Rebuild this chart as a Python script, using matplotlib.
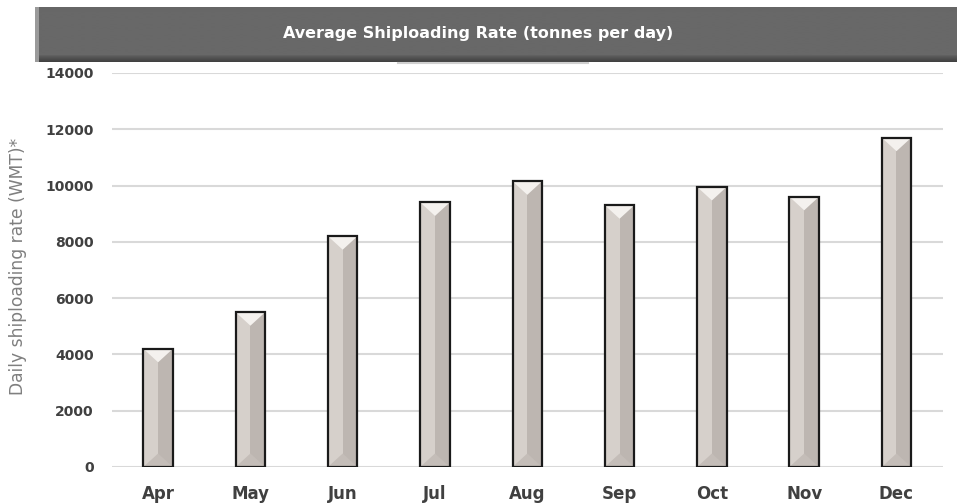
import numpy as np
import matplotlib
matplotlib.use("Agg")
import matplotlib.pyplot as plt
from matplotlib.patches import Polygon, Rectangle

months = ["Apr", "May", "Jun", "Jul", "Aug", "Sep", "Oct", "Nov", "Dec"]
rates = [4200, 5500, 8200, 9400, 10150, 9300, 9950, 9600, 11700]
title = "Average Shiploading Rate (tonnes per day)"
ylabel = "Daily shiploading rate (WMT)*"
yticks = [0, 2000, 4000, 6000, 8000, 10000, 12000, 14000]

fig = plt.figure(figsize=(9.57, 5.03), dpi=100)
fig.patch.set_facecolor("white")

# header banner
hx0, hy0, hw, hh = 0.0366, 0.877, 0.9634, 0.109
hax = fig.add_axes([hx0, hy0, hw, hh])
grad = np.concatenate([np.linspace(0.40, 0.41, 6), np.linspace(0.41, 0.41, 38),
                       np.linspace(0.36, 0.26, 6)])
hax.imshow(grad[:, None], aspect="auto", cmap="gray", vmin=0, vmax=1,
           extent=[0, 1, 0, 1], interpolation="bilinear")
hax.add_patch(Rectangle((0, 0), 0.004, 1, color="#9a9a9a", lw=0))
hax.set_xlim(0, 1)
hax.set_ylim(0, 1)
hax.axis("off")
fig.text(0.5, 0.934, title, color="white", fontsize=11.5, fontweight="bold",
         ha="center", va="center")
fig.add_artist(plt.Line2D([398 / 957, 588 / 957], [hy0 - 0.002, hy0 - 0.002],
                          color="#d0d0d0", lw=1.5, transform=fig.transFigure))

ax = fig.add_axes([0.117, 0.0716, 0.868, 0.7834])
x = np.arange(len(months))
w = 0.32
bev = 480

ax.bar(x, rates, width=w, color="#d6d0cb", linewidth=0, zorder=2)
ax.bar(x + w / 4, rates, width=w / 2, color="#bdb6b1", linewidth=0, zorder=2)
for xi, v in zip(x, rates):
    ax.add_patch(Polygon([(xi - w / 2, v), (xi + w / 2, v), (xi, v - bev)],
                         closed=True, color="#f4f1ee", lw=0, zorder=3))
    ax.add_patch(Polygon([(xi - w / 2, 0), (xi + w / 2, 0), (xi, bev)],
                         closed=True, color="#c4bdb8", lw=0, zorder=3))
ax.bar(x, rates, width=w, fill=False, edgecolor="#1a1a1a", linewidth=1.6, zorder=4)

ax.set_xlim(-0.5, len(months) - 0.5)
ax.set_ylim(0, 14000)
ax.set_yticks(yticks)
ax.set_yticklabels([str(t) for t in yticks], fontsize=10, fontweight="bold",
                   color="#404040")
ax.set_xticks(x)
ax.set_xticklabels(months, fontsize=12, fontweight="bold", color="#404040")
ax.tick_params(axis="y", length=0, pad=13)
ax.tick_params(axis="x", length=0, pad=13)
ax.grid(axis="y", color="#d9d9d9", lw=1.5, zorder=0)
ax.set_axisbelow(True)
for s in ax.spines.values():
    s.set_visible(False)

fig.text(0.019, 0.471, ylabel, rotation=90, fontsize=12.3, color="#7f7f7f",
         ha="center", va="center")

fig.savefig("out.png", dpi=100)
